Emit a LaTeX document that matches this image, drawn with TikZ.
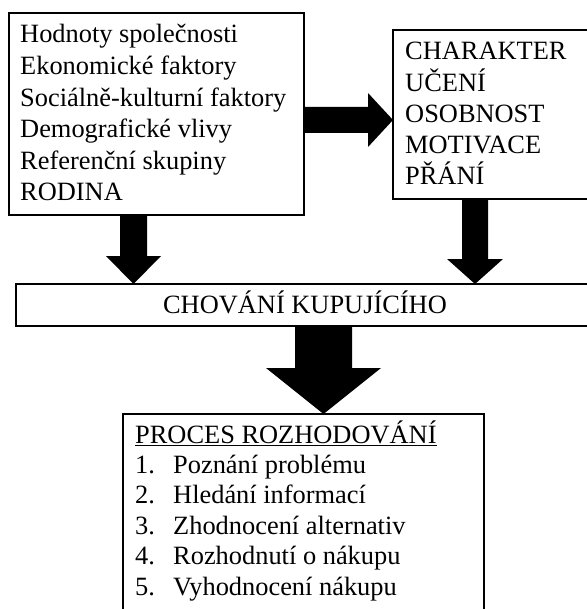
\documentclass[tikz,border=0pt]{standalone}
\usepackage{fontspec}
\setmainfont{Liberation Serif}
\usetikzlibrary{calc}
\tikzset{
  box/.style={draw=black, line width=2.5pt, fill=white, outer sep=0pt, inner sep=0pt, anchor=north west},
  txt/.style={anchor=base west, inner sep=0pt, font=\fontsize{26.4}{31}\selectfont},
  fat/.style={fill=black},
}
\newcommand\linesbox[2]{\vtop{\baselineskip=#1\relax\lineskiplimit=-100pt\relax #2}}
% vertical fat arrow: #1 x-coordinate name, #2 from node, #3 to node, #4 shaft half width, #5 head half width, #6 head length
\newcommand\vfat[6]{%
  \fill[fat] let \p1=(#2.south -| #1), \p2=(#3.north -| #1) in
    (\x1-#4,\y1) -- (\x1+#4,\y1) -- (\x1+#4,\y2+#6) -- (\x1+#5,\y2+#6) -- (\x2,\y2)
    -- (\x1-#5,\y2+#6) -- (\x1-#4,\y2+#6) -- cycle;}
% horizontal fat arrow: #1 y-coordinate name, #2 from node, #3 to node
\newcommand\hfat[6]{%
  \fill[fat] let \p1=(#2.east |- #1), \p2=(#3.west |- #1) in
    (\x1,\y1-#4) -- (\x1,\y1+#4) -- (\x2-#6,\y1+#4) -- (\x2-#6,\y1+#5) -- (\x2,\y2)
    -- (\x2-#6,\y1-#5) -- (\x2-#6,\y1-#4) -- cycle;}
\begin{document}
\begin{tikzpicture}[x=1pt,y=-1pt]
\useasboundingbox (0,0) rectangle (586,609);
\fill[white] (0,0) rectangle (586,609);

% boxes
\node[box, minimum width=295pt, minimum height=202pt] (b1) at (9,13) {};
\node[box, minimum width=230pt, minimum height=169pt] (b2) at (393,30) {};
\node[box, minimum width=610pt, minimum height=42pt] (b3) at (16,284) {};
\node[box, minimum width=361pt, minimum height=230pt] (b4) at (123,414) {};

% texts
\node[txt] (t1) at (20,43) {\linesbox{31.6pt}{%
  \hbox{Hodnoty společnosti}\hbox{Ekonomické faktory}\hbox{Sociálně-kulturní faktory}%
  \hbox{Demografické vlivy}\hbox{Referenční skupiny}\hbox{RODINA}}};
\node[txt] (t2) at (405,60) {\linesbox{31.25pt}{%
  \hbox{CHARAKTER}\hbox{UČENÍ}\hbox{OSOBNOST}\hbox{MOTIVACE}\hbox{PŘÁNÍ}}};
\node[txt, anchor=base] (t3) at (305,313) {CHOVÁNÍ KUPUJÍCÍHO};
\node[txt] (t4) at (135,443) {\linesbox{30.4pt}{%
  \hbox{\underline{PROCES ROZHODOVÁNÍ}}%
  \hbox{\makebox[38pt][l]{1.}Poznání problému}%
  \hbox{\makebox[38pt][l]{2.}Hledání informací}%
  \hbox{\makebox[38pt][l]{3.}Zhodnocení alternativ}%
  \hbox{\makebox[38pt][l]{4.}Rozhodnutí o nákupu}%
  \hbox{\makebox[38pt][l]{5.}Vyhodnocení nákupu}}};

% arrow axes
\coordinate (xa) at (133.5,0);
\coordinate (xb) at (475,0);
\coordinate (xc) at (323.5,0);
\coordinate (ya) at (0,120);

% fat arrows
\hfat{ya}{b1}{b2}{13pt}{27pt}{25pt}
\vfat{xa}{b1}{b3}{13.5pt}{27.5pt}{28pt}
\vfat{xb}{b2}{b3}{13pt}{28pt}{25pt}
\vfat{xc}{b3}{b4}{28.5pt}{57.5pt}{46pt}
\end{tikzpicture}
\end{document}
